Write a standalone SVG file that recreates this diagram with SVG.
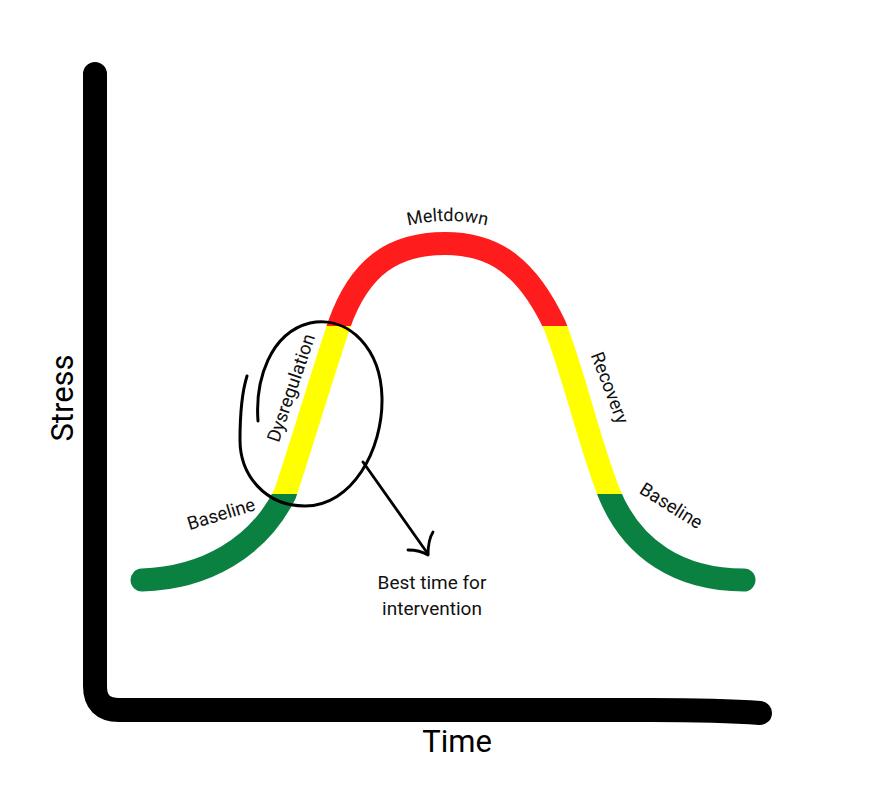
<svg xmlns="http://www.w3.org/2000/svg" width="886" height="785" viewBox="0 0 886 785">
  <defs>
    <linearGradient id="stressGrad" gradientUnits="userSpaceOnUse" x1="0" y1="0" x2="0" y2="785">
      <stop offset="0" stop-color="#ff1c1c"/>
      <stop offset="0.4153" stop-color="#ff1c1c"/>
      <stop offset="0.4153" stop-color="#ffff00"/>
      <stop offset="0.6287" stop-color="#ffff00"/>
      <stop offset="0.6287" stop-color="#0a8041"/>
      <stop offset="1" stop-color="#0a8041"/>
    </linearGradient>
    <path id="meltArc" d="M 380,235.4 A 165 165 0 0 1 515,235.4"/>
  </defs>
  <style>
    .lbl { font-family: Roboto, "Liberation Sans", sans-serif; font-size: 18.5px; fill: #111; }
    .melt { font-size: 18px; }
    .note { font-size: 19px; }
    .axislbl { font-family: Roboto, "Liberation Sans", sans-serif; font-size: 31px; fill: #000; }
    .ink { fill: none; stroke: #000; stroke-linecap: round; stroke-linejoin: round; }
  </style>
  <rect width="886" height="785" fill="#fff"/>

  <g id="axes">
    <path class="ink" stroke-width="24" d="M 95,74 L 95,686 Q 95,710 119,710 L 650,710 Q 720,710 760,713"/>
  </g>

  <g id="stress-curve">
    <path fill="none" stroke="url(#stressGrad)" stroke-width="23" stroke-linecap="round"
      d="M 142,580 C 205,578 258,548 285,494 C 300,450 322,375 339,325 C 360,265 395,243.5 445,243.5 C 490,243.5 525,262 555,326 C 574,375 590,445 609,493 C 632,550 680,580 744,580"/>
  </g>

  <g id="labels">
    <text class="lbl melt" text-anchor="middle"><textPath href="#meltArc" startOffset="50%">Meltdown</textPath></text>
    <text class="lbl" text-anchor="middle" transform="translate(297,390) rotate(-71)">Dysregulation</text>
    <text class="lbl" text-anchor="middle" transform="translate(604,390) rotate(69)">Recovery</text>
    <text class="lbl" text-anchor="middle" transform="translate(223,520) rotate(-17)">Baseline</text>
    <text class="lbl" text-anchor="middle" transform="translate(668,511) rotate(32)">Baseline</text>
    <text class="lbl note" text-anchor="middle" x="432" y="589">Best time for</text>
    <text class="lbl note" text-anchor="middle" x="432" y="615">intervention</text>
  </g>

  <g id="axis-labels">
    <text class="axislbl" text-anchor="middle" transform="translate(73,398) rotate(-90)">Stress</text>
    <text class="axislbl" text-anchor="middle" x="457" y="752">Time</text>
  </g>

  <g id="highlight-ellipse">
    <path class="ink" stroke-width="3" d="M 258,421 C 255,380 270,333 310,323 C 350,315 381,350 382,398 C 383,450 352,506 305,506 C 265,506 240,475 240,440 C 240,410 242,392 247,376"/>
  </g>

  <g id="connectors">
    <path class="ink" stroke-width="2.8" d="M 363,462 L 428,554"/>
    <path class="ink" stroke-width="2.8" d="M 408,550 Q 420,550 428,555 Q 428,540 433,532"/>
  </g>
</svg>
